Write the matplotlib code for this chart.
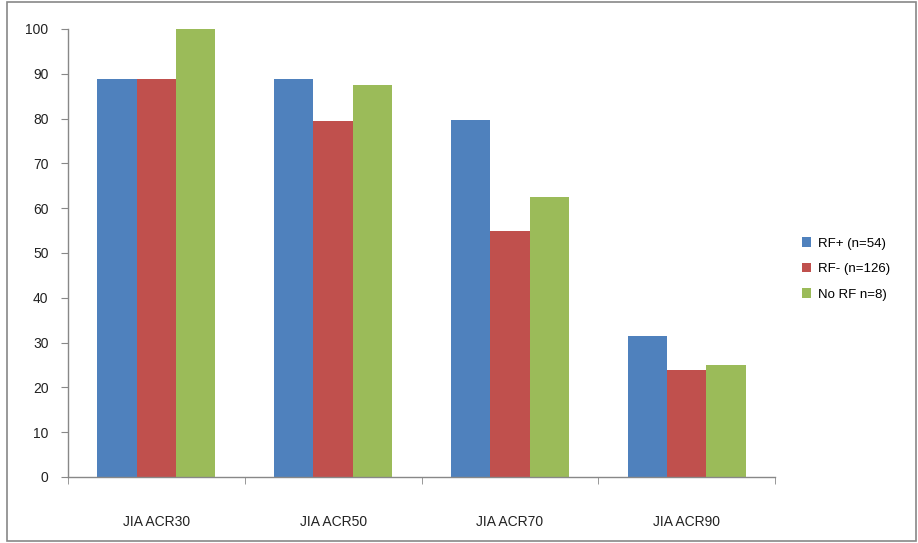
import matplotlib
matplotlib.use("Agg")
import matplotlib.pyplot as plt
import numpy as np
from matplotlib.patches import Rectangle

plt.rcParams['font.family'] = ['Liberation Sans', 'DejaVu Sans']

categories = ["JIA ACR30", "JIA ACR50", "JIA ACR70", "JIA ACR90"]
series_names = ["RF+ (n=54)", "RF- (n=126)", "No RF n=8)"]
rf_pos = [88.9, 88.9, 79.6, 31.5]
rf_neg = [88.9, 79.4, 54.8, 23.8]
no_rf = [100, 87.5, 62.5, 25]
y_ticks = [0, 10, 20, 30, 40, 50, 60, 70, 80, 90, 100]

colors = ["#4F81BD", "#C0504D", "#9BBB59"]

fig = plt.figure(figsize=(9.18, 5.43), dpi=100)
ax = fig.add_axes([68/918, 66/543, (775-68)/918, (477-29)/543])

x = np.arange(len(categories))
w = 0.223
for i, (vals, name) in enumerate(zip([rf_pos, rf_neg, no_rf], series_names)):
    ax.bar(x + (i - 1) * w, vals, width=w, color=colors[i], label=name,
           edgecolor='none')

ax.set_xlim(-0.5, len(categories) - 0.5)
ax.set_ylim(0, 100)
ax.set_yticks(y_ticks)
ax.set_xticks(x)
ax.set_xticklabels(categories, fontsize=10)
ax.set_xticks(np.arange(len(categories) + 1) - 0.5, minor=True)
ax.tick_params(axis='x', which='major', length=0, pad=27, colors='#222222')
ax.tick_params(axis='x', which='minor', length=5, color='#888888', direction='out')
ax.tick_params(axis='y', length=5, color='#888888', labelsize=10,
               labelcolor='#222222', pad=9)

for s in ['top', 'right']:
    ax.spines[s].set_visible(False)
for s in ['left', 'bottom']:
    ax.spines[s].set_color('#888888')
    ax.spines[s].set_linewidth(1.0)

leg = fig.legend(loc='center left', bbox_to_anchor=(790/918, 1 - 269/543),
                 frameon=False, fontsize=9.5, handlelength=0.7, handleheight=0.7,
                 handletextpad=0.5, labelspacing=1.0)

fig.patches.append(Rectangle((7/918, 2/543), 909/918, 539/543, transform=fig.transFigure,
                             fill=False, edgecolor='#888888', linewidth=1.2))
fig.savefig("out.png", dpi=100)
